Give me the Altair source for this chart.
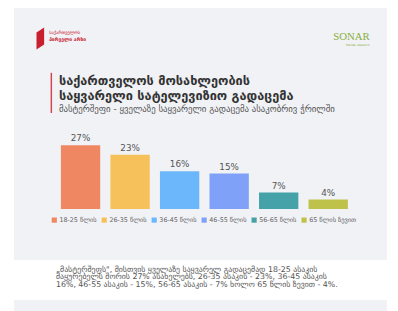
import altair as alt
import pandas as pd

ages = ["18-25 წლის", "26-35 წლის", "36-45 წლის", "46-55 წლის", "56-65 წლის", "65 წლის ზევით"]
values = [27, 23, 16, 15, 7, 4]
bar_colors = ["#ef8763", "#f6c15a", "#6cb7fb", "#7fa1f8", "#45a2a8", "#bfc24a"]

title_lines = ["საქართველოს მოსახლეობის", "საყვარელი სატელევიზიო გადაცემა"]
subtitle = "მასტერშეფი - ყველაზე საყვარელი გადაცემა ასაკობრივ ჭრილში"
note_lines = [
    "„მასტერშეფს\", მისთვის ყველაზე საყვარელ გადაცემად 18-25 ასაკის",
    "მაყურებელს შორის 27% ასახელებს, 26-35 ასაკის - 23%, 36-45 ასაკის",
    "16%, 46-55 ასაკის - 15%, 56-65 ასაკის - 7% ხოლო 65 წლის ზევით - 4%.",
]
logo_lines = ["საქართველოს", "პირველი არხი"]
sonar_lines = ["SONAR", "Market research"]

FONT = "DejaVu Sans"
GREY_BG = "#f1f2f6"

df = pd.DataFrame({"age": ages, "value": values,
                   "label": [f"{v}%" for v in values]})

one = pd.DataFrame({"k": [0]})

def txt(t, x, y, size, color, weight="normal", font=FONT, align="left"):
    return alt.Chart(pd.DataFrame({"t": [t]})).mark_text(
        align=align, baseline="middle", fontSize=size, color=color,
        fontWeight=weight, font=font
    ).encode(text="t:N", x=alt.value(x), y=alt.value(y))

panel = alt.Chart(one).mark_rect(color=GREY_BG).encode(
    x=alt.value(6), x2=alt.value(387), y=alt.value(-10), y2=alt.value(254))
panel2 = alt.Chart(one).mark_rect(color=GREY_BG).encode(
    x=alt.value(6), x2=alt.value(387), y=alt.value(295), y2=alt.value(310))
redbar = alt.Chart(one).mark_rect(color="#d2434e").encode(
    x=alt.value(43.5), x2=alt.value(45), y=alt.value(63), y2=alt.value(104))
logo_shape = alt.Chart(one).mark_point(
    shape="M -0.35 -0.55 L 0.35 -1 L 0.35 0.55 L -0.35 1 Z",
    filled=True, opacity=1, color="#c8202f", size=500
).encode(x=alt.value(33), y=alt.value(28))

xscale = alt.Scale(domain=ages, range=[54, 347], paddingInner=0.206, paddingOuter=0)
yscale = alt.Scale(domain=[0, 27], range=[202, 137])

bars = alt.Chart(df).mark_bar().encode(
    x=alt.X("age:N", scale=xscale, axis=None, sort=ages),
    y=alt.Y("value:Q", scale=yscale, axis=None),
    y2=alt.value(202),
    color=alt.Color("age:N", sort=ages,
                    scale=alt.Scale(domain=ages, range=bar_colors),
                    legend=alt.Legend(
                        title=None, orient="none", legendX=44, legendY=210,
                        direction="horizontal", symbolType="square",
                        symbolSize=28, symbolStrokeWidth=0, labelFont=FONT,
                        labelFontSize=6.5, labelColor="#666666", labelOffset=2,
                        columnPadding=4, padding=0, symbolOpacity=1)),
)
labels = alt.Chart(df).mark_text(
    dy=-7, baseline="middle", fontSize=9, color="#555555", font=FONT
).encode(
    x=alt.X("age:N", scale=xscale, axis=None, sort=ages),
    y=alt.Y("value:Q", scale=yscale, axis=None),
    text="label:N",
)

layers = [panel, panel2, redbar, logo_shape,
          txt(logo_lines[0], 42, 22, 4.5, "#c8202f"),
          txt(logo_lines[1], 42, 29, 5, "#c8202f", weight="bold"),
          txt(sonar_lines[0], 332, 27, 11, "#86b03c", font="Liberation Serif"),
          txt(sonar_lines[1], 345, 35, 3, "#86b03c"),
          txt(title_lines[0], 52, 71, 13, "#333333", weight="bold"),
          txt(title_lines[1], 52, 87, 13, "#333333", weight="bold"),
          txt(subtitle, 52, 100, 9, "#555555"),
          bars, labels]
for i, line in enumerate(note_lines):
    layers.append(txt(line, 49, 264 + 8 * i, 8, "#555555"))

chart = alt.layer(*layers).resolve_legend(color="shared").properties(
    width=390, height=303, padding=0, autosize=alt.AutoSizeParams(type="none"),
    background="#ffffff"
).configure_view(stroke=None)

chart.save("out.html", embed_options={"renderer": "svg", "actions": False})
